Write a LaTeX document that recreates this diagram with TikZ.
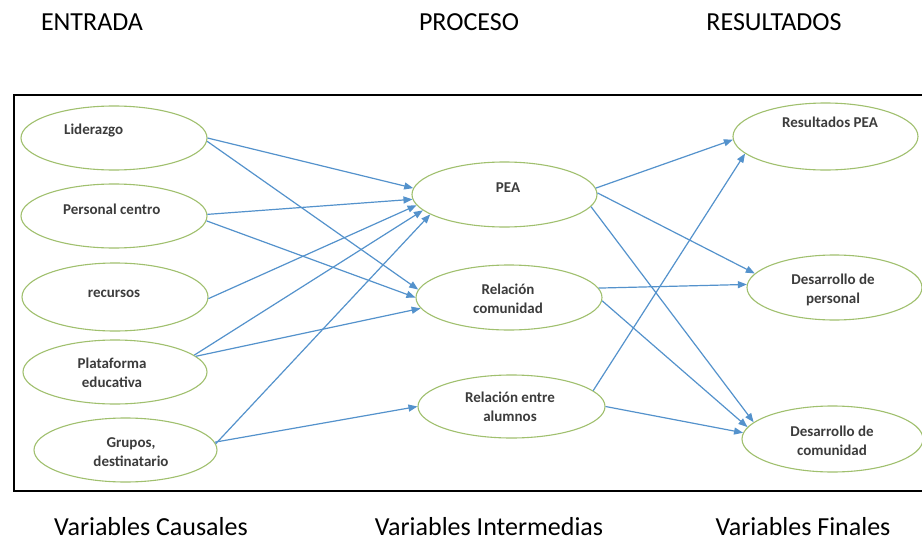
\documentclass[tikz,border=0pt]{standalone}
\usepackage{fontspec}
\setmainfont{Carlito}
\usetikzlibrary{shapes.geometric,arrows.meta}
\definecolor{arrblue}{RGB}{84,146,204}
\definecolor{ellgreen}{RGB}{160,192,110}
\definecolor{txtgray}{RGB}{60,60,60}
\begin{document}
\begin{tikzpicture}[x=1pt,y=-1pt,
  ell/.style={ellipse,draw=ellgreen,line width=1.1pt,inner sep=0pt},
  lbl/.style={font=\fontsize{15}{19}\selectfont\bfseries,text=txtgray,align=center,inner sep=0pt},
  head/.style={font=\fontsize{26}{30}\selectfont,anchor=base,inner sep=0pt},
  foot/.style={head,text depth=0pt},
  arr/.style={draw=arrblue,line width=1.2pt,-{Triangle[length=9pt,width=7pt]}}]
\useasboundingbox (0,0) rectangle (922,541);
\fill[white] (0,0) rectangle (922,541);
\draw[line width=1.6pt] (14,95) rectangle (926,491);

% headings
\node[head] (h1) at (92,30) {ENTRADA};
\node[head] (h2) at (469,30) {PROCESO};
\node[head] (h3) at (774,30) {RESULTADOS};
\node[foot] (f1) at (151,535) {Variables Causales};
\node[foot] (f2) at (489,535) {Variables Intermedias};
\node[foot] (f3) at (803,535) {Variables Finales};

% left column
\node[ell,minimum width=186pt,minimum height=64pt] (lid) at (114,138) {};
\node[ell,minimum width=186pt,minimum height=64pt] (per) at (114,216) {};
\node[ell,minimum width=186pt,minimum height=68pt] (rec) at (115,297) {};
\node[ell,minimum width=184pt,minimum height=64pt] (pla) at (115,372) {};
\node[ell,minimum width=183pt,minimum height=64pt] (gru) at (125.5,450) {};
\node[lbl,anchor=west] (lidt) at (64,131) {Liderazgo};
\node[lbl,anchor=west] (pert) at (63,209) {Personal centro};
\node[lbl] (rect) at (114,294) {recursos};
\node[lbl] (plat) at (112,373) {Plataforma\\educativa};
\node[lbl] (grut) at (131,452) {Grupos,\\destinatario};

% middle column
\node[ell,minimum width=185pt,minimum height=65pt] (pea) at (504.5,194.5) {};
\node[ell,minimum width=186pt,minimum height=65pt] (rco) at (509,297.5) {};
\node[ell,minimum width=187pt,minimum height=63pt] (rea) at (511.5,406.5) {};
\node[lbl] (peat) at (508,188) {PEA};
\node[lbl] (rcot) at (508,299) {Relación\\comunidad};
\node[lbl] (reat) at (510,407) {Relación entre\\alumnos};

% right column
\node[ell,minimum width=185pt,minimum height=67pt] (res) at (825.5,136.5) {};
\node[ell,minimum width=175pt,minimum height=65pt] (dpe) at (834.5,287.5) {};
\node[ell,minimum width=181pt,minimum height=66pt] (dco) at (832.5,439) {};
\node[lbl] (rest) at (830,122) {Resultados PEA};
\node[lbl] (dpet) at (833,290) {Desarrollo de\\personal};
\node[lbl] (dcot) at (832,441) {Desarrollo de\\comunidad};

% arrows left -> middle
\draw[arr] (lid.0) -- (pea.176);
\draw[arr] (lid.-2) -- (rco.175);
\draw[arr] (per.1) -- (pea.-177.5);
\draw[arr] (per.-3) -- (rco.180);
\draw[arr] (rec.-1) -- (pea.-173);
\draw[arr] (pla.12) -- (pea.-169);
\draw[arr] (pla.11) -- (rco.-173.5);
\draw[arr] (gru.4) -- (pea.-165);
\draw[arr] (gru.5) -- (rea.180);

% arrows middle -> right
\draw[arr] (pea.4.7) -- (res.-178);
\draw[arr] (pea.1) -- (dpe.170);
\draw[arr] (pea.-8.5) -- (dco.168);
\draw[arr] (rco.6) -- (dpe.178);
\draw[arr] (rco.-2) -- (dco.172.6);
\draw[arr] (rea.11.8) -- (res.-168);
\draw[arr] (rea.0) -- (dco.176.4);
\end{tikzpicture}
\end{document}
